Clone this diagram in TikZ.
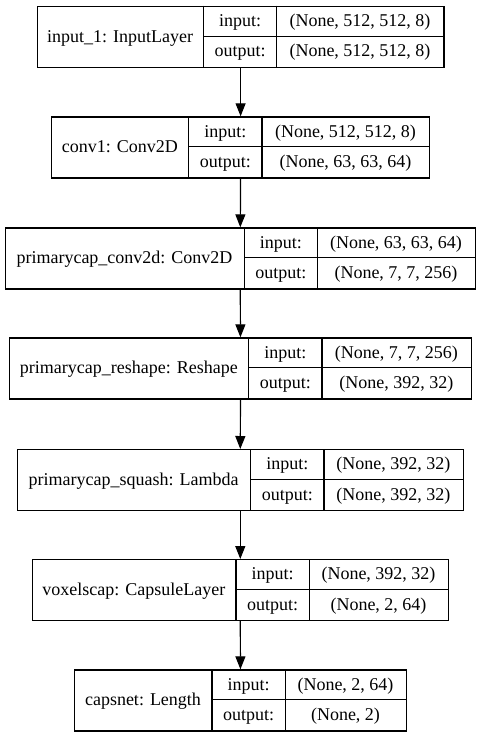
\documentclass[tikz,border=0pt]{standalone}
\usepackage{fontspec}
\setmainfont{Liberation Serif}
\usetikzlibrary{arrows.meta}
\newcommand\layerbox[9]{%
  \pgfmathsetmacro\LyW{#5-#2}%
  \pgfmathsetmacro\LyB{#6+61}%
  \pgfmathsetmacro\LyM{#6+30.5}%
  \pgfmathsetmacro\LyNa{(#2+#3)/2}%
  \pgfmathsetmacro\LyNb{(#3+#4)/2}%
  \pgfmathsetmacro\LyNc{(#4+#5)/2}%
  \node[lbox, minimum width=\LyW pt, anchor=north west] (#1) at (#2,#6) {};
  \draw[lline] (#3,#6) -- (#3,\LyB);
  \draw[lline] (#4,#6) -- (#4,\LyB);
  \draw[lline] (#3,\LyM) -- (#5,\LyM);
  \node[ltxt] (#1-n) at (\LyNa,{#6+30.5+6}) {#7};
  \node[ltxt] (#1-i) at (\LyNb,{#6+15.25+5.5}) {input:};
  \node[ltxt] (#1-o) at (\LyNb,{#6+45.75+5.5}) {output:};
  \node[ltxt] (#1-iv) at (\LyNc,{#6+15.25+5.5}) {#8};
  \node[ltxt] (#1-ov) at (\LyNc,{#6+45.75+5.5}) {#9};
}
\begin{document}
\begin{tikzpicture}[x=1pt,y=-1pt,
  lbox/.style={draw=black, line width=1.2pt, minimum height=61pt, inner sep=0pt},
  lline/.style={draw=black, line width=1.2pt},
  ltxt/.style={anchor=base, inner sep=0pt, font=\fontsize{18}{20}\selectfont},
  arr/.style={draw=black, line width=1.2pt, -{Triangle[length=13pt,width=10pt]}}]
\useasboundingbox[fill=white] (0,0) rectangle (480,737);
\layerbox{b1}{36.7}{203.3}{276.7}{443.3}{5.7}{input\_1: InputLayer}{(None, 512, 512, 8)}{(None, 512, 512, 8)}
\layerbox{b2}{51}{188.7}{262}{429}{116.3}{conv1: Conv2D}{(None, 512, 512, 8)}{(None, 63, 63, 64)}
\layerbox{b3}{4.7}{244.3}{317.3}{474.7}{227.3}{primarycap\_conv2d: Conv2D}{(None, 63, 63, 64)}{(None, 7, 7, 256)}
\layerbox{b4}{9}{248.7}{322}{470.7}{337.3}{primarycap\_reshape: Reshape}{(None, 7, 7, 256)}{(None, 392, 32)}
\layerbox{b5}{16.7}{250.7}{324}{462.7}{449}{primarycap\_squash: Lambda}{(None, 392, 32)}{(None, 392, 32)}
\layerbox{b6}{31.7}{236}{309.3}{447.7}{559}{voxelscap: CapsuleLayer}{(None, 392, 32)}{(None, 2, 64)}
\layerbox{b7}{74}{212}{285.3}{405.7}{669.3}{capsnet: Length}{(None, 2, 64)}{(None, 2)}
\draw[arr] (b1.south) -- (b2.north);
\draw[arr] (b2.south) -- (b3.north);
\draw[arr] (b3.south) -- (b4.north);
\draw[arr] (b4.south) -- (b5.north);
\draw[arr] (b5.south) -- (b6.north);
\draw[arr] (b6.south) -- (b7.north);
\end{tikzpicture}
\end{document}
